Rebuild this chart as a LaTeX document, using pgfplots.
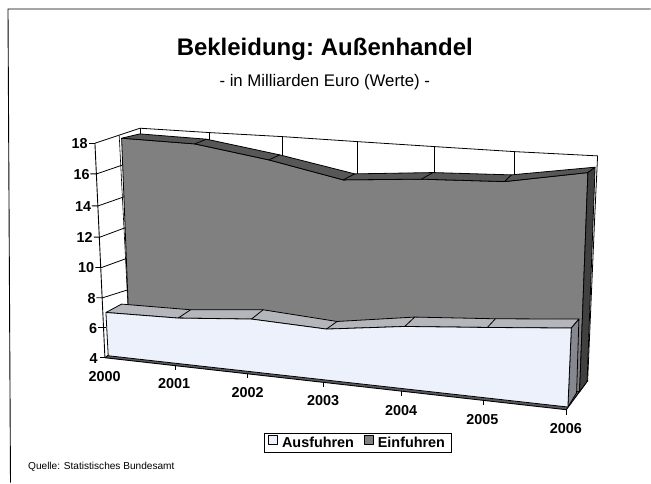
\documentclass[border=0pt]{standalone}
\usepackage{fontspec}
\setmainfont{Liberation Sans}
\usepackage{pgfplots}
\pgfplotsset{compat=1.18}

\definecolor{einfront}{gray}{0.5}
\definecolor{eintop}{gray}{0.34}
\definecolor{einside}{gray}{0.25}
\definecolor{ausfront}{HTML}{EDF1FC}
\definecolor{austop}{HTML}{B4B6BC}
\definecolor{ausside}{HTML}{85888E}

\newcommand{\bigbold}{\fontsize{14.4}{16}\selectfont\bfseries}

\begin{document}
\begin{tikzpicture}
  % the chart is a perspective drawing, so everything is read off in picture pixels
  \begin{axis}[
      scale only axis, width=651pt, height=483pt,
      xmin=0, xmax=651, ymin=0, ymax=483, y dir=reverse,
      axis lines=none, clip=false,
      every axis plot/.append style={forget plot, line join=round},
      legend columns=2,
      legend cell align=left,
      legend image code/.code={\draw[#1, line width=0.7pt] (0pt,-1pt) rectangle (9pt,8pt);
        \path[draw=none, fill=none] (0pt,0pt) -- (11.5pt,0pt);},
      legend style={at={(0.4055,0.0610)}, anchor=south west, draw=black, line width=0.9pt,
        font=\bigbold, inner xsep=4pt, inner ysep=1.5pt,
        /tikz/every even column/.style={column sep=8pt}},
    ]
    % corners, they keep the page at full size
    \addplot[draw=none] coordinates {(0,0) (651,483)};
    % outer frame
    \addplot[black, line width=0.9pt] coordinates {(651,9) (8,9) (10.5,483)};

    % walls
    \addplot[black, line width=0.8pt] coordinates {(95,143.3) (140,128.3) (210,132.7) (282.3,136.7) (357.3,141.7) (434.7,146.7) (514.3,151.7) (598,156) (595,220) (588,382)};
    \addplot[black, line width=0.8pt] coordinates {(140,128.3) (140,134)};
    \addplot[black, line width=0.8pt] coordinates {(210,132.7) (210,140)};
    \addplot[black, line width=0.8pt] coordinates {(282.3,136.7) (282.3,156)};
    \addplot[black, line width=0.8pt] coordinates {(357.3,141.7) (357.3,174)};
    \addplot[black, line width=0.8pt] coordinates {(434.7,146.7) (434.7,173)};
    \addplot[black, line width=0.8pt] coordinates {(514.3,151.7) (514.3,175)};
    % value axis and its grid lines on the side wall
    \addplot[black, line width=0.9pt] coordinates {(95,143.3) (105,358)};
    \addplot[black, line width=0.8pt] coordinates {(89,143.3) (95,143.3)};
    \addplot[black, line width=0.8pt] coordinates {(90.5,174) (96.7,174) (123,165)};
    \addplot[black, line width=0.8pt] coordinates {(92,206) (98.3,206) (124,197)};
    \addplot[black, line width=0.8pt] coordinates {(94,237.3) (100,237.3) (125,228)};
    \addplot[black, line width=0.8pt] coordinates {(95.5,267.7) (101.7,267.7) (127,258.5)};
    \addplot[black, line width=0.8pt] coordinates {(96.5,298) (102.7,298) (128,290)};
    \addplot[black, line width=0.8pt] coordinates {(98.5,328) (106,328)};
    \addplot[black, line width=0.8pt] coordinates {(100,358) (105,358)};
    \addplot[black, line width=0.6pt] coordinates {(119.3,135.7) (128,305)};

    % floor
    \addplot[black, line width=0.9pt, fill=black!65] coordinates {(105,358) (108.3,355.5) (587.5,381.7) (566.7,410) (105,358)};
    \addplot[black, line width=0.8pt] coordinates {(175.3,366) (175.3,370)};
    \addplot[black, line width=0.8pt] coordinates {(247.7,374) (247.7,378.5)};
    \addplot[black, line width=0.8pt] coordinates {(324,382.5) (324,387)};
    \addplot[black, line width=0.8pt] coordinates {(401.7,391) (401.7,396)};
    \addplot[black, line width=0.8pt] coordinates {(483.3,400) (483.3,405)};
    \addplot[black, line width=0.8pt] coordinates {(566.7,410) (566.7,415)};

    % Einfuhren
    \addplot[black, line width=0.8pt, fill=einfront] coordinates {(121.7,138.3) (195,144) (269,160) (343.5,180) (421.7,179.3) (505,181.7) (588.3,172.7) (580,392) (130,350) (121.7,138.3)};
    \addplot[black, line width=0.8pt, fill=eintop] coordinates {(121.7,138.3) (140,134) (206.7,139.3) (280,155) (355,174) (433.3,172.7) (511.7,175) (595.5,167.3) (588.3,172.7) (505,181.7) (421.7,179.3) (343.5,180) (269,160) (195,144) (121.7,138.3)};
    \addplot[black, line width=0.8pt, fill=einside] coordinates {(588.3,172.7) (595.5,167.3) (587.5,381.7) (580,392) (588.3,172.7)};
    \addplot[black, line width=0.8pt] coordinates {(195,144) (206.7,139.3)};
    \addplot[black, line width=0.8pt] coordinates {(269,160) (280,155)};
    \addplot[black, line width=0.8pt] coordinates {(343.5,180) (355,174)};
    \addplot[black, line width=0.8pt] coordinates {(421.7,179.3) (433.3,172.7)};
    \addplot[black, line width=0.8pt] coordinates {(505,181.7) (511.7,175)};

    % Ausfuhren
    \addplot[black, line width=0.8pt, fill=austop] coordinates {(106,312.7) (121.7,304.3) (190.7,310) (263.3,310) (337.3,321.7) (415,317.3) (495.7,319) (579.3,319.3) (571.7,328.3) (487.7,327.7) (405,326.7) (326.7,329.3) (251.7,319.3) (178.3,318.3) (106,312.7)};
    \addplot[black, line width=0.8pt, fill=ausside] coordinates {(571.7,328.3) (579.3,319.3) (577,393) (568.3,407.3) (571.7,328.3)};
    \addplot[black, line width=0.8pt, fill=ausfront] coordinates {(106,312.7) (178.3,318.3) (251.7,319.3) (326.7,329.3) (405,326.7) (487.7,327.7) (571.7,328.3) (568.3,407.3) (108.3,356) (106,312.7)};
    \addplot[black, line width=0.8pt] coordinates {(178.3,318.3) (190.7,310)};
    \addplot[black, line width=0.8pt] coordinates {(251.7,319.3) (263.3,310)};
    \addplot[black, line width=0.8pt] coordinates {(326.7,329.3) (337.3,321.7)};
    \addplot[black, line width=0.8pt] coordinates {(405,326.7) (415,317.3)};
    \addplot[black, line width=0.8pt] coordinates {(487.7,327.7) (495.7,319)};

    % value labels
    \foreach \v/\xx/\yy in {18/88/143.5, 16/90/174.5, 14/91.5/206.5, 12/93/237.5, 10/94.5/268, 8/96/298.5, 6/97.5/328.5, 4/98/358.5}{
      \edef\temp{\noexpand\node[anchor=east, inner sep=0pt, font=\noexpand\bigbold] at (axis cs:\xx,\yy) {\v};}
      \temp
    }
    % year labels
    \foreach \v/\xx/\yy in {2000/104.7/377.3, 2001/174.3/384.3, 2002/247.7/393.3, 2003/323.3/401.3, 2004/401.3/411, 2005/482.7/420, 2006/566.3/429.3}{
      \edef\temp{\noexpand\node[inner sep=0pt, font=\noexpand\bigbold] at (axis cs:\xx,\yy) {\v};}
      \temp
    }

    \node[inner sep=0pt, font=\fontsize{24}{26}\selectfont\bfseries] at (axis cs:325,49) {Bekleidung:\hspace{-2pt} Außenhandel};
    \node[inner sep=0pt, font=\fontsize{16.8}{18}\selectfont] at (axis cs:325,82.5) {- in Milliarden Euro (Werte) -};
    \node[anchor=west, inner sep=0pt, font=\fontsize{10.1}{12}\selectfont] at (axis cs:28,467) {Quelle: Statistisches Bundesamt};

    \addlegendimage{draw=black, fill=ausfront}
    \addlegendentry{Ausfuhren}
    \addlegendimage{draw=black, fill=einfront}
    \addlegendentry{Einfuhren}
  \end{axis}
\end{tikzpicture}
\end{document}
